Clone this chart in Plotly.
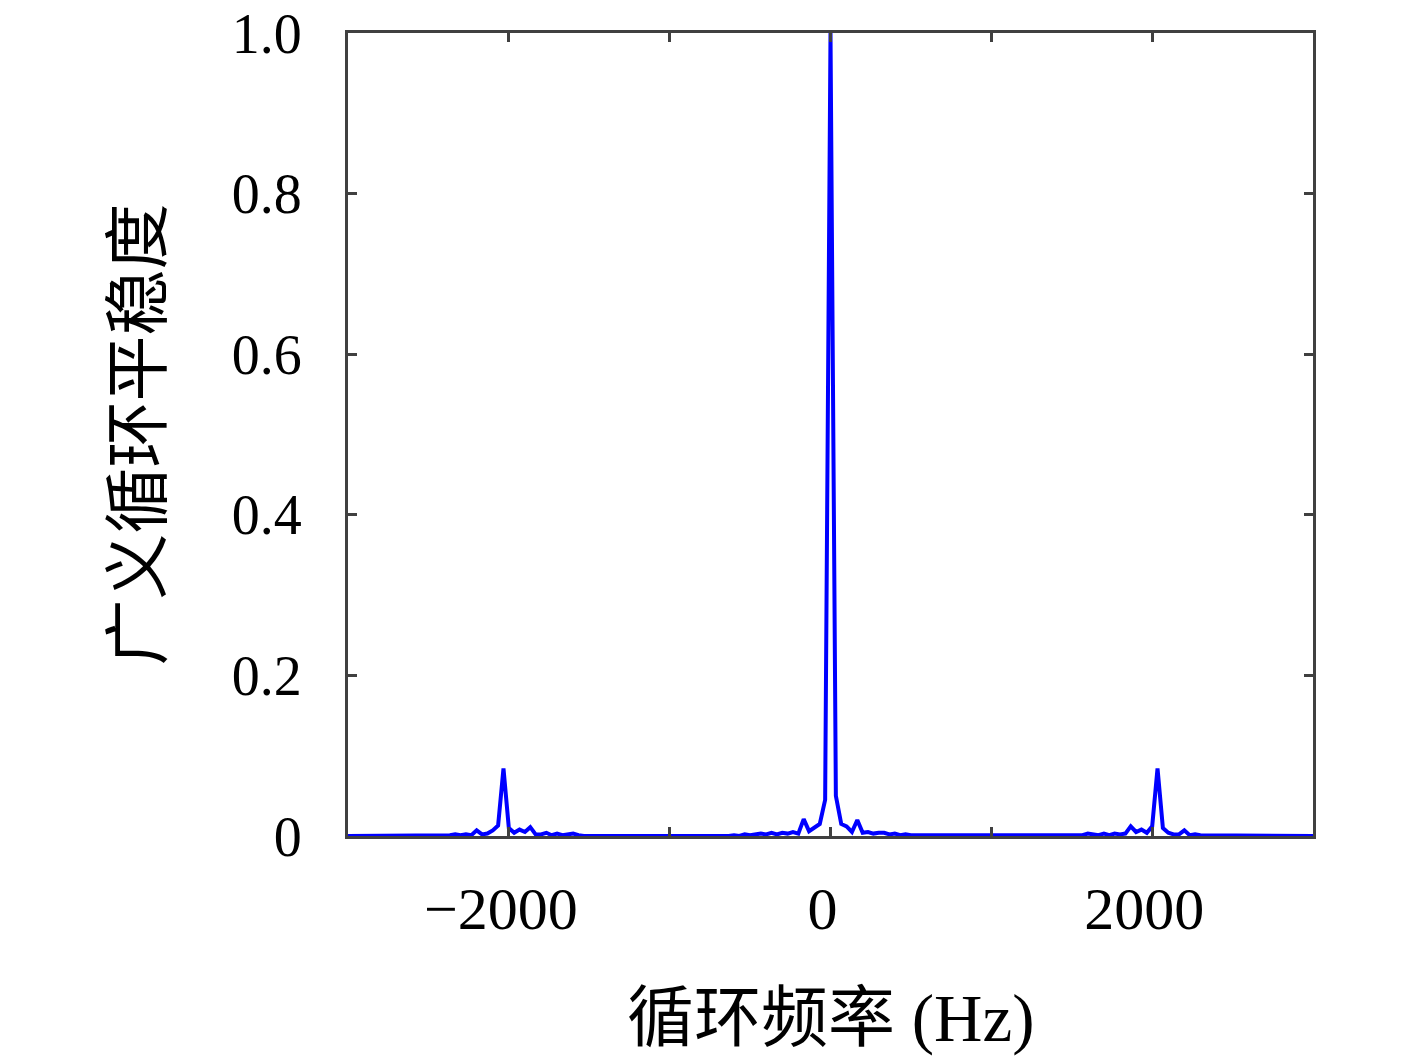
import plotly.graph_objects as go

# Cyclic frequency (Hz) and generalized cyclostationarity degree
freq_left = [-3000.0, -2400.0, -2366.7, -2333.3, -2300.0, -2266.7, -2233.3, -2200.0, -2166.7,
             -2133.3, -2100.0, -2066.7, -2033.3, -2000.0, -1966.7, -1933.3, -1900.0, -1866.7,
             -1833.3, -1800.0, -1766.7, -1733.3, -1700.0, -1666.7, -1633.3, -1600.0, -1566.7,
             -1533.3]
val_left = [0.0, 0.0, 0.001, 0.002, 0.001, 0.002, 0.001, 0.007, 0.002,
            0.003, 0.007, 0.013, 0.084, 0.010, 0.004, 0.008, 0.005, 0.011,
            0.002, 0.002, 0.004, 0.001, 0.003, 0.001, 0.002, 0.003, 0.001,
            0.0]

freq_center = [-633.3, -600.0, -566.7, -533.3, -500.0, -466.7, -433.3, -400.0, -366.7, -333.3,
               -300.0, -266.7, -233.3, -200.0, -166.7, -133.3, -100.0, -66.7, -33.3, 0.0,
               33.3, 66.7, 100.0, 133.3, 166.7, 200.0, 233.3, 266.7, 300.0, 333.3,
               366.7, 400.0, 433.3, 466.7, 500.0, 533.3, 566.7, 600.0, 633.3]
val_center = [0.0, 0.001, 0.0, 0.002, 0.001, 0.002, 0.003, 0.002, 0.004, 0.002,
              0.004, 0.003, 0.005, 0.003, 0.021, 0.006, 0.011, 0.015, 0.045, 1.0,
              0.050, 0.015, 0.012, 0.005, 0.020, 0.004, 0.005, 0.003, 0.004, 0.004,
              0.002, 0.003, 0.001, 0.002, 0.001, 0.001, 0.0, 0.0, 0.0]

freq_right = [1533.3, 1566.7, 1600.0, 1633.3, 1666.7, 1700.0, 1733.3, 1766.7, 1800.0,
              1833.3, 1866.7, 1900.0, 1933.3, 1966.7, 2000.0, 2033.3, 2066.7, 2100.0,
              2133.3, 2166.7, 2200.0, 2233.3, 2266.7, 2300.0, 2333.3, 2366.7, 2400.0,
              3000.0]
val_right = [0.0, 0.001, 0.003, 0.002, 0.001, 0.003, 0.001, 0.003, 0.002,
             0.003, 0.012, 0.005, 0.008, 0.004, 0.012, 0.084, 0.010, 0.004,
             0.002, 0.002, 0.007, 0.001, 0.002, 0.001, 0.001, 0.0, 0.0,
             0.0]

freq = freq_left + freq_center + freq_right
values = val_left + val_center + val_right

x_tickvals = [-2000, -1000, 0, 1000, 2000]
x_ticktext = ["−2000", "", "0", "", "2000"]
y_tickvals = [0, 0.2, 0.4, 0.6, 0.8, 1.0]
y_ticktext = ["0", "0.2", "0.4", "0.6", "0.8", "1.0"]

x_title = "循环频率 (Hz)"
y_title = "广义循环平稳度"

FONT = "Liberation Serif, Noto Sans CJK SC, serif"
AXIS_COLOR = "#404040"

fig = go.Figure()
fig.add_trace(go.Scatter(
    x=freq, y=values, mode="lines",
    line=dict(color="#0000ff", width=4),
    showlegend=False,
))

axis_common = dict(
    showline=True, linecolor=AXIS_COLOR, linewidth=3, mirror="ticks",
    ticks="inside", ticklen=9, tickwidth=2.5, tickcolor=AXIS_COLOR,
    showgrid=False, zeroline=False, automargin=False,
    ticklabeloverflow="allow",
)

fig.update_layout(
    width=1417, height=1063,
    paper_bgcolor="white", plot_bgcolor="white",
    margin=dict(l=348, r=104, t=33, b=227),
    xaxis=dict(range=[-3000, 3000], tickmode="array", tickvals=x_tickvals,
               ticktext=x_ticktext, ticklabelstandoff=18, ticklabelshift=-8,
               tickfont=dict(family=FONT, size=60, color="black"),
               **axis_common),
    yaxis=dict(range=[0, 1], tickmode="array", tickvals=y_tickvals,
               ticktext=y_ticktext, ticklabelstandoff=32,
               tickfont=dict(family=FONT, size=56, color="black"),
               **axis_common),
    annotations=[
        dict(text=x_title, xref="paper", yref="paper", x=0.5, y=0,
             yshift=-182, xanchor="center", yanchor="middle", showarrow=False,
             font=dict(family=FONT, size=67, color="black")),
        dict(text=y_title, xref="paper", yref="paper", x=0, y=0.5,
             xshift=-210, xanchor="center", yanchor="middle", textangle=-90,
             showarrow=False, font=dict(family=FONT, size=66, color="black")),
    ],
)

fig.write_html("out.html",
               config={"displayModeBar": False},
               post_script="document.body.style.margin='0';")
